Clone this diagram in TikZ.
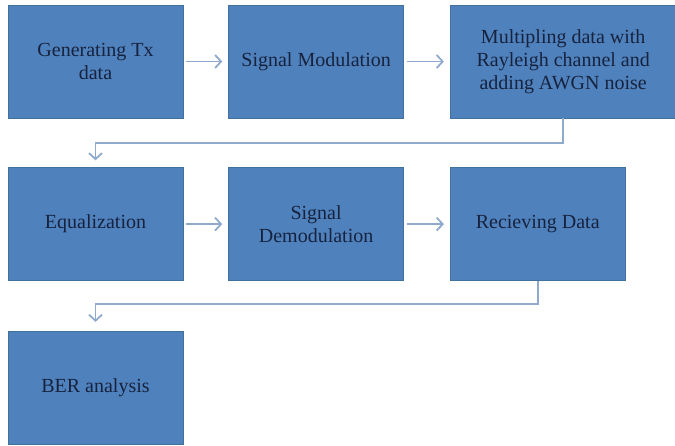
\documentclass[tikz,border=0pt]{standalone}
\usepackage{fontspec}
\setmainfont{Liberation Serif}
\usetikzlibrary{positioning,arrows.meta}
\definecolor{boxblue}{HTML}{4F81BD}
\definecolor{boxedge}{HTML}{41719C}
\definecolor{txtblue}{HTML}{17233E}
\definecolor{arrblue}{HTML}{8FAACC}

\begin{document}
\begin{tikzpicture}[x=1pt,y=1pt,
    bloc/.style={draw=boxedge,line width=0.6pt,fill=boxblue,text=txtblue,
      minimum width=175pt,minimum height=113pt,align=center,inner sep=2pt,
      font=\fontsize{20}{23}\selectfont},
    fleche/.style={draw=arrblue,line width=1.8pt,-{Straight Barb[length=6pt,width=13pt]}},
    node distance=49pt and 45pt]
    \useasboundingbox (0,0) rectangle (675,-445); % taille de l'image
    % premiere ligne
    \node[bloc] (gen) at (95.5,-61.5) {Generating Tx\\data};
    \node[bloc,right=of gen] (mod) {Signal Modulation};
    \node[bloc,right=46pt of mod,minimum width=226pt] (chan) {Multipling data with\\Rayleigh channel and\\adding AWGN noise};
    % deuxieme ligne
    \node[bloc,below=of gen] (eq) {Equalization};
    \node[bloc,right=of eq] (demod) {Signal\\Demodulation};
    \node[bloc,right=46pt of demod] (rec) {Recieving Data};
    % troisieme ligne
    \node[bloc,below=50pt of eq] (ber) {BER analysis};
    \draw[fleche,shorten <=3pt,shorten >=6pt] (gen) -- (mod);
    \draw[fleche,shorten <=3pt,shorten >=6pt] (mod) -- (chan);
    \draw[fleche,shorten <=3pt,shorten >=6pt] (eq) -- (demod);
    \draw[fleche,shorten <=3pt,shorten >=6pt] (demod) -- (rec);
    \draw[fleche,shorten >=7pt] (chan.south) -- ++(0,-25) -| (eq.north);
    \draw[fleche,shorten >=9pt] (rec.south) -- ++(0,-23) -| (ber.north);
\end{tikzpicture}
\end{document}
